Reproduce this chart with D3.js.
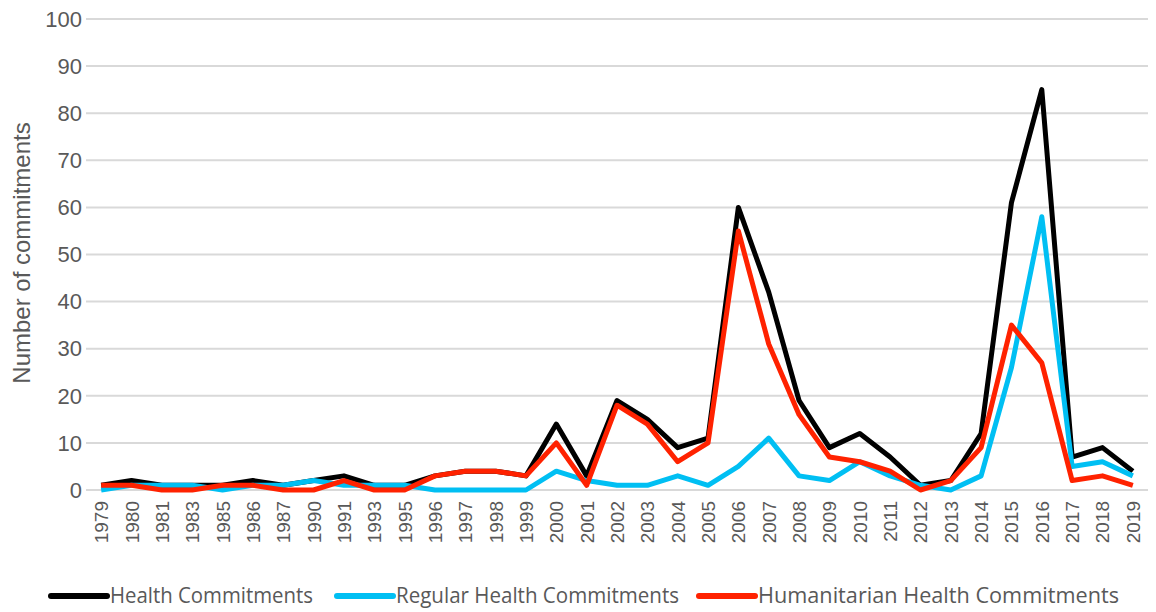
<!DOCTYPE html>
<html>
<head>
<meta charset="utf-8">
<script src="https://cdn.jsdelivr.net/npm/d3@7/dist/d3.min.js"></script>
<style>
  body { margin: 0; background: #fff; }
  svg { display: block; }
</style>
</head>
<body>
<div id="chart"></div>
<script>
// Health commitments by year
const years = ['1979','1980','1981','1983','1985','1986','1987','1990','1991','1993','1995',
  '1996','1997','1998','1999','2000','2001','2002','2003','2004','2005','2006','2007','2008',
  '2009','2010','2011','2012','2013','2014','2015','2016','2017','2018','2019'];

const healthCommitments = [1,2,1,1,1,2,1,2,3,1,1,3,4,4,3,14,3,19,15,9,11,60,42,19,9,12,7,1,2,12,61,85,7,9,4];
const regularCommitments = [0,1,1,1,0,1,1,2,1,1,1,0,0,0,0,4,2,1,1,3,1,5,11,3,2,6,3,1,0,3,26,58,5,6,3];
const humanitarianCommitments = [1,1,0,0,1,1,0,0,2,0,0,3,4,4,3,10,1,18,14,6,10,55,31,16,7,6,4,0,2,9,35,27,2,3,1];

const yTicks = [0,10,20,30,40,50,60,70,80,90,100];

const series = [
  { name: 'Health Commitments', values: healthCommitments, color: '#000000' },
  { name: 'Regular Health Commitments', values: regularCommitments, color: '#00bff3' },
  { name: 'Humanitarian Health Commitments', values: humanitarianCommitments, color: '#ff2200' }
];

const width = 1156, height = 612;
const margin = { top: 19, right: 8, bottom: 122, left: 86 };

const svg = d3.select('#chart').append('svg')
  .attr('width', width)
  .attr('height', height);

const x = d3.scalePoint()
  .domain(years)
  .range([margin.left, width - margin.right])
  .padding(0.5);

const y = d3.scaleLinear()
  .domain([0, 100])
  .range([height - margin.bottom, margin.top]);

// gridlines
svg.append('g')
  .selectAll('line')
  .data(yTicks)
  .join('line')
  .attr('x1', margin.left)
  .attr('x2', width - margin.right)
  .attr('y1', d => y(d))
  .attr('y2', d => y(d))
  .attr('stroke', '#d9d9d9')
  .attr('stroke-width', 2);

// y axis labels
svg.append('g')
  .selectAll('text')
  .data(yTicks)
  .join('text')
  .attr('x', margin.left - 4)
  .attr('y', d => y(d))
  .attr('dy', '0.35em')
  .attr('text-anchor', 'end')
  .attr('font-family', 'Liberation Sans, Arial, sans-serif')
  .attr('font-size', 22)
  .attr('fill', '#595959')
  .text(d => d);

// x axis labels
svg.append('g')
  .selectAll('text')
  .data(years)
  .join('text')
  .attr('transform', d => `translate(${x(d) + 7},${y(0) + 11}) rotate(-90)`)
  .attr('text-anchor', 'end')
  .attr('font-family', 'Liberation Sans, Arial, sans-serif')
  .attr('font-size', 19)
  .attr('fill', '#595959')
  .text(d => d);

// y title
svg.append('text')
  .attr('transform', `translate(30,253) rotate(-90)`)
  .attr('text-anchor', 'middle')
  .attr('font-family', 'Liberation Sans, Arial, sans-serif')
  .attr('font-size', 24)
  .attr('fill', '#595959')
  .text('Number of commitments');

// lines
const line = d3.line()
  .x((d, i) => x(years[i]))
  .y(d => y(d));

svg.append('g')
  .selectAll('path')
  .data(series)
  .join('path')
  .attr('fill', 'none')
  .attr('stroke', d => d.color)
  .attr('stroke-width', 5)
  .attr('stroke-linejoin', 'round')
  .attr('d', d => line(d.values));

// legend
const legendX = [51, 337, 699];
const legendW = [203, 283, 361];
const legend = svg.append('g')
  .selectAll('g')
  .data(series)
  .join('g')
  .attr('transform', (d, i) => `translate(${legendX[i]},596)`);

legend.append('line')
  .attr('x1', 0).attr('x2', 56)
  .attr('y1', 0).attr('y2', 0)
  .attr('stroke', d => d.color)
  .attr('stroke-width', 6)
  .attr('stroke-linecap', 'round');

legend.append('text')
  .attr('x', 59)
  .attr('y', 0)
  .attr('dy', '0.35em')
  .attr('font-family', 'Open Sans, sans-serif')
  .attr('font-size', 21)
  .attr('fill', '#595959')
  .attr('textLength', (d, i) => legendW[i])
  .attr('lengthAdjust', 'spacingAndGlyphs')
  .text(d => d.name);
</script>
</body>
</html>
